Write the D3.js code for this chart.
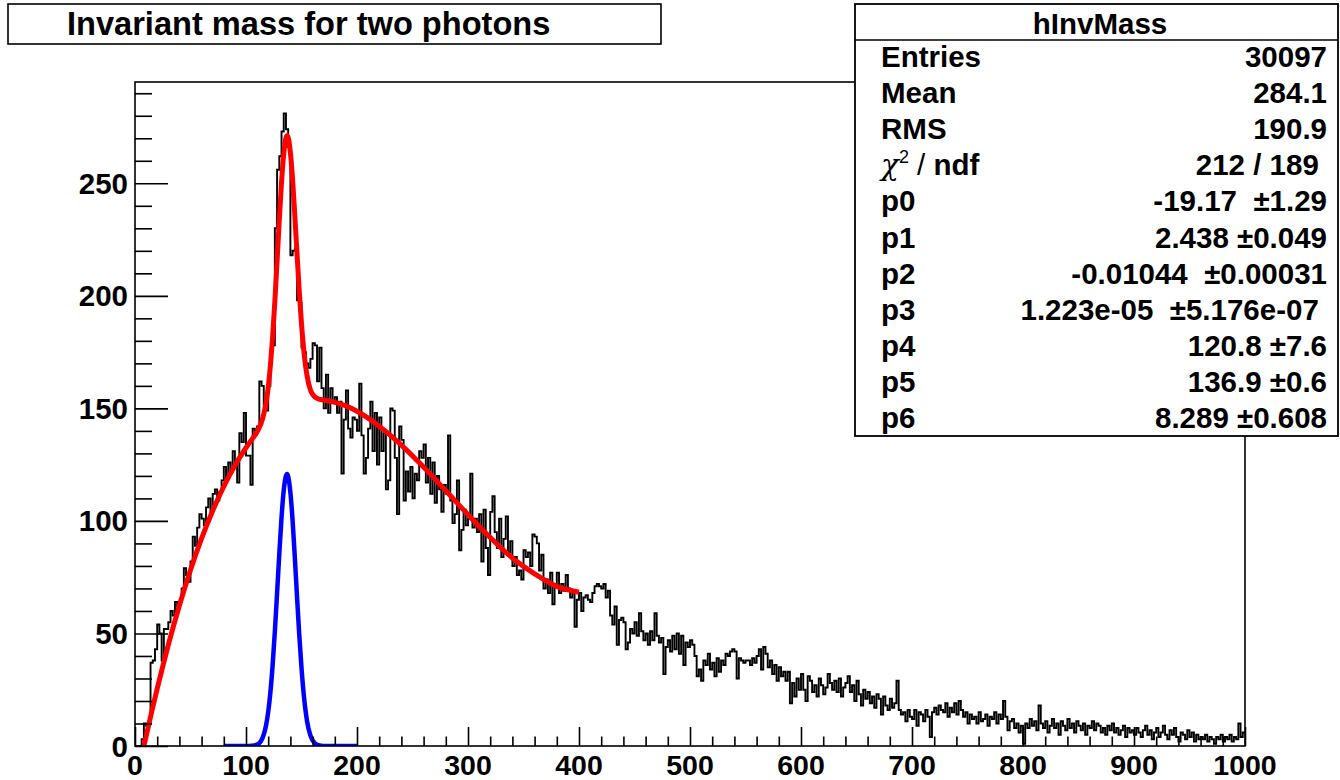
<!DOCTYPE html>
<html><head><meta charset="utf-8">
<script src="https://cdn.jsdelivr.net/npm/d3@7"></script>
<style>
body{margin:0;background:#fff;}
svg text{font-family:"Liberation Sans",Arial,Helvetica,sans-serif;font-weight:bold;fill:#000;}
</style>
</head><body>
<svg id="chart" width="1340" height="780"></svg>
<script>
// ---------- data ----------
const title = "Invariant mass for two photons";
const histName = "hInvMass";
const binWidth = 2;
const xRange = [0, 1000];
const yMax = 295;
const xTickLabels = [0,100,200,300,400,500,600,700,800,900,1000];
const yTickLabels = [0,50,100,150,200,250];

// bin contents, 2-unit bins from 0 to 1000
const counts = [
  0,0,0,3,10,9,10,37,38,43,
  54,50,38,52,52,55,60,58,64,62,
  64,70,79,76,73,82,93,89,97,103,
  101,98,106,110,104,112,114,109,113,118,
  124,119,126,122,131,125,117,139,135,148,
  129,129,116,141,140,142,162,160,150,149,
  160,176,178,230,256,262,273,281,274,266,
  218,220,221,198,197,177,175,170,168,172,
  179,178,162,177,159,150,165,148,159,153,
  155,148,153,121,145,158,141,137,146,145,
  140,161,138,121,128,141,153,131,148,125,
  146,131,139,114,118,150,149,128,103,142,
  136,109,122,113,124,110,121,118,131,128,
  134,117,128,112,126,108,120,114,104,116,
  112,138,109,99,103,118,87,96,105,98,
  101,121,97,101,95,103,82,105,88,76,
  104,111,95,88,101,84,92,102,86,91,
  80,84,76,78,74,87,84,86,80,94,
  93,90,78,85,70,74,68,77,63,72,
  77,68,72,69,76,70,66,69,53,65,
  68,60,66,67,65,64,68,71,72,71,
  70,72,66,69,58,54,62,45,56,57,
  55,43,46,52,50,55,49,59,51,47,
  50,45,51,47,59,49,46,48,32,44,
  47,42,49,43,50,41,49,36,46,44,
  47,45,40,31,34,29,38,36,41,34,
  37,31,39,33,38,36,41,40,42,43,
  42,30,39,38,37,38,38,36,39,37,
  40,43,34,44,41,35,38,32,36,29,
  35,31,33,29,33,19,28,22,30,25,
  32,25,20,31,29,24,27,22,30,27,
  23,26,32,28,25,29,24,30,22,26,
  28,31,24,27,20,29,23,18,25,21,
  24,19,22,17,23,21,14,22,18,16,
  21,17,19,29,16,14,15,11,16,13,
  12,16,9,15,14,11,16,13,4,15,
  17,14,18,16,15,19,13,17,15,19,
  14,20,16,13,15,10,14,12,13,10,
  15,11,12,14,9,13,12,15,10,14,
  12,20,13,7,11,12,8,10,6,9,
  1,10,8,12,9,11,7,18,10,8,
  11,6,9,12,8,10,5,11,9,7,
  12,8,10,6,11,9,7,10,5,9,
  8,11,7,10,9,6,8,5,9,7,
  10,6,8,5,7,9,4,8,6,7,
  5,8,6,4,7,9,5,7,3,6,
  8,4,6,9,5,3,7,5,8,4,
  2,6,5,3,7,4,6,2,5,3,
  4,3,5,2,4,3,1,4,3,5,
  2,4,3,5,2,4,3,10,4,6
];

// red total fit curve
const fitX = [8,10,15,20,25,30,40,50,60,70,80,90,100,105,110,115,118,120,122,124,126,128,130,132,134,136,137,138,140,142,144,145,146,148,150,152,155,158,160,165,170,175,180,190,200,220,240,260,280,300,320,340,360,380,400];
const fitY = [0,4.2,15.1,25.5,35.4,44.9,62.4,78.2,92.2,104.5,115.3,124.6,132.5,136.0,139.6,145.4,152.2,159.3,169.1,181.9,197.6,215.4,233.6,250.3,263.1,270.2,271.1,270.3,263.7,251.5,235.6,227.0,218.4,201.9,187.6,176.2,164.5,158.3,156.2,154.2,153.7,153.3,152.7,151.1,148.7,142.1,133.7,123.9,113.4,102.8,92.6,83.5,76.5,70.9,68.3];

// blue signal gaussian
const sigX = [80,100,105,110,115,118,120,122,124,126,128,130,132,134,136,137,138,140,142,144,146,148,150,152,155,158,160,165,170,180,200];
const sigY = [0,0,0.1,0.6,3.7,9.0,15.1,24.0,36.0,50.9,67.9,85.4,101.4,113.6,120.1,120.8,119.7,112.6,100.0,83.7,66.1,49.3,34.7,23.0,11.1,4.7,2.5,0.4,0,0,0];

// statistics box
const statLabels = ["Entries","Mean","RMS","chi2","p0","p1","p2","p3","p4","p5","p6"];
const statValues = ["30097","284.1","190.9","212 / 189 ","-19.17  \u00b11.29","2.438 \u00b10.049","-0.01044  \u00b10.00031","1.223e-05  \u00b15.176e-07 ","120.8 \u00b17.6","136.9 \u00b10.6","8.289 \u00b10.608"];

// ---------- drawing ----------
const svg = d3.select("#chart");
const frame = {left:135, right:1245, top:82, bottom:746};

const x = d3.scaleLinear().domain(xRange).range([frame.left, frame.right]);
const y = d3.scaleLinear().domain([0, yMax]).range([frame.bottom, frame.top]);

svg.append("defs").append("clipPath").attr("id","plotclip")
  .append("rect").attr("x",frame.left).attr("y",frame.top)
  .attr("width",frame.right-frame.left).attr("height",frame.bottom-frame.top);

const plot = svg.append("g").attr("clip-path","url(#plotclip)");

// histogram (step outline)
const histPts = counts.map((c,i)=>[i*binWidth, c]);
histPts.push([xRange[1], counts[counts.length-1]]);
const stepLine = d3.line().x(d=>x(d[0])).y(d=>y(d[1])).curve(d3.curveStepAfter);
plot.append("path").attr("d", stepLine(histPts))
  .attr("fill","none").attr("stroke","#000").attr("stroke-width",1.9);

// fit curves
const smooth = d3.line().x(d=>x(d[0])).y(d=>y(d[1])).curve(d3.curveMonotoneX);
plot.append("path").attr("d", smooth(sigX.map((v,i)=>[v,sigY[i]])))
  .attr("fill","none").attr("stroke","#0000ff").attr("stroke-width",4.5).attr("stroke-linejoin","round");
plot.append("path").attr("d", smooth(fitX.map((v,i)=>[v,fitY[i]])))
  .attr("fill","none").attr("stroke","#ff0000").attr("stroke-width",5).attr("stroke-linejoin","round");

// frame
svg.append("rect").attr("x",frame.left).attr("y",frame.top)
  .attr("width",frame.right-frame.left).attr("height",frame.bottom-frame.top)
  .attr("fill","none").attr("stroke","#000").attr("stroke-width",1.6);

// axes (ROOT style: ticks inside frame)
const yAxis = d3.axisRight(y).tickValues(yTickLabels).tickSize(33).tickFormat("");
const gy = svg.append("g").attr("transform",`translate(${frame.left},0)`).call(yAxis);
gy.select(".domain").remove();
gy.selectAll("line").attr("stroke","#000").attr("stroke-width",1.6);
const yMinor = d3.axisRight(y).tickValues(d3.range(0, yMax, 10).filter(v=>v%50!==0)).tickSize(17).tickFormat("");
const gym = svg.append("g").attr("transform",`translate(${frame.left},0)`).call(yMinor);
gym.select(".domain").remove();
gym.selectAll("line").attr("stroke","#000").attr("stroke-width",1.6);

svg.append("g").selectAll("text").data(yTickLabels).join("text")
  .attr("x", frame.left-7).attr("y", d=>y(d)+10.5)
  .attr("text-anchor","end").style("font-size","29.5px").text(d=>d);

const xAxis = d3.axisTop(x).tickValues(xTickLabels).tickSize(19).tickFormat("");
const gx = svg.append("g").attr("transform",`translate(0,${frame.bottom})`).call(xAxis);
gx.select(".domain").remove();
gx.selectAll("line").attr("stroke","#000").attr("stroke-width",1.6);
const xMinor = d3.axisTop(x).tickValues(d3.range(0, 1001, 20).filter(v=>v%100!==0)).tickSize(9.5).tickFormat("");
const gxm = svg.append("g").attr("transform",`translate(0,${frame.bottom})`).call(xMinor);
gxm.select(".domain").remove();
gxm.selectAll("line").attr("stroke","#000").attr("stroke-width",1.6);

svg.append("g").selectAll("text").data(xTickLabels).join("text")
  .attr("x", d=>x(d)).attr("y", frame.bottom+29)
  .attr("text-anchor","middle").style("font-size","28.5px").text(d=>d);

// title box
svg.append("rect").attr("x",8).attr("y",4).attr("width",653).attr("height",40)
  .attr("fill","#fff").attr("stroke","#000").attr("stroke-width",1.6);
svg.append("text").attr("x",67).attr("y",35).style("font-size","32.6px").text(title);

// stats box
const sb = {x:855, y:4, w:483, h:432};
svg.append("rect").attr("x",sb.x).attr("y",sb.y).attr("width",sb.w).attr("height",sb.h)
  .attr("fill","#fff").attr("stroke","#000").attr("stroke-width",1.8);
svg.append("line").attr("x1",sb.x).attr("x2",sb.x+sb.w).attr("y1",40).attr("y2",40)
  .attr("stroke","#000").attr("stroke-width",1.6);
svg.append("text").attr("x",1100).attr("y",34).attr("text-anchor","middle")
  .style("font-size","29.5px").text(histName);

const rowY = d3.scaleLinear().domain([0, statLabels.length-1]).range([67, 428]);
const rows = svg.append("g").selectAll("g").data(statLabels).join("g");
rows.each(function(lbl,i){
  const g = d3.select(this);
  const t = g.append("text").attr("x",881).attr("y",rowY(i)).style("font-size","29.5px");
  if(lbl==="chi2"){
    t.append("tspan").style("font-style","italic").style("font-weight","normal").style("font-family","'DejaVu Serif',serif").text("\u03c7");
    t.append("tspan").attr("dy",-12).style("font-size","18px").style("font-weight","normal").text("2");
    t.append("tspan").attr("dy",12).style("font-weight","normal").text(" / ");
    t.append("tspan").text("ndf");
  } else {
    t.text(lbl);
  }
  g.append("text").attr("x",1327).attr("y",rowY(i)).attr("text-anchor","end")
    .style("font-size","29.5px").style("white-space","pre").attr("xml:space","preserve")
    .text(statValues[i]);
});
</script>
</body></html>
